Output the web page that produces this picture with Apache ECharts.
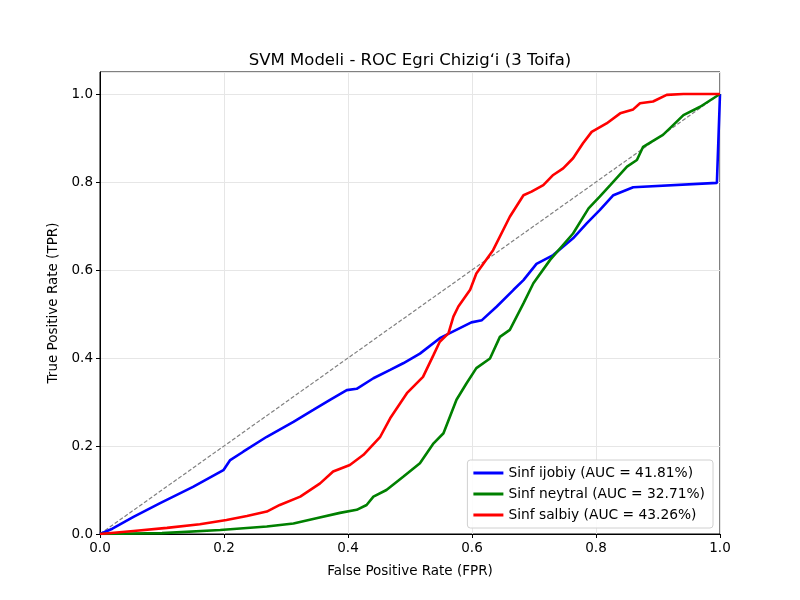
<!DOCTYPE html>
<html>
<head>
<meta charset="utf-8">
<script src="https://cdn.jsdelivr.net/npm/echarts@6/dist/echarts.min.js"></script>
<style>
  html, body { margin: 0; padding: 0; background: #fff; }
  #main { width: 800px; height: 600px; }
</style>
</head>
<body>
<div id="main"></div>
<script>
// ROC nuqtalari (rasmdan o'qilgan)
var ijobiyFpr = [0, 0.02, 0.054, 0.097, 0.15, 0.199, 0.21, 0.231, 0.269, 0.312, 0.344, 0.371, 0.398, 0.414, 0.441, 0.468, 0.489, 0.516, 0.548, 0.599, 0.616, 0.64, 0.667, 0.683, 0.704, 0.731, 0.763, 0.785, 0.806, 0.828, 0.86, 0.995, 0.998, 1.0];
var ijobiyTpr = [0, 0.012, 0.039, 0.07, 0.107, 0.145, 0.168, 0.187, 0.221, 0.255, 0.282, 0.305, 0.327, 0.33, 0.354, 0.373, 0.388, 0.41, 0.445, 0.481, 0.486, 0.517, 0.555, 0.577, 0.614, 0.634, 0.672, 0.706, 0.736, 0.77, 0.788, 0.798, 0.8, 1.0];

var neytralFpr = [0, 0.1, 0.194, 0.269, 0.312, 0.349, 0.387, 0.414, 0.43, 0.441, 0.462, 0.489, 0.516, 0.538, 0.554, 0.575, 0.591, 0.607, 0.629, 0.645, 0.661, 0.683, 0.699, 0.726, 0.763, 0.788, 0.806, 0.823, 0.85, 0.866, 0.876, 0.908, 0.919, 0.941, 0.968, 1.0];
var neytralTpr = [0, 0.002, 0.009, 0.017, 0.024, 0.036, 0.048, 0.055, 0.066, 0.085, 0.1, 0.13, 0.161, 0.206, 0.229, 0.305, 0.342, 0.377, 0.399, 0.448, 0.464, 0.524, 0.57, 0.623, 0.683, 0.74, 0.767, 0.793, 0.835, 0.85, 0.88, 0.907, 0.922, 0.952, 0.971, 1.0];

var salbiyFpr = [0, 0.054, 0.108, 0.161, 0.204, 0.237, 0.269, 0.29, 0.323, 0.355, 0.376, 0.403, 0.425, 0.452, 0.468, 0.495, 0.521, 0.538, 0.548, 0.562, 0.57, 0.578, 0.597, 0.607, 0.634, 0.661, 0.683, 0.696, 0.715, 0.731, 0.747, 0.763, 0.779, 0.793, 0.817, 0.839, 0.86, 0.871, 0.892, 0.914, 0.941, 1.0];
var salbiyTpr = [0, 0.007, 0.014, 0.022, 0.032, 0.041, 0.051, 0.066, 0.085, 0.115, 0.142, 0.157, 0.18, 0.221, 0.263, 0.32, 0.357, 0.407, 0.437, 0.456, 0.494, 0.517, 0.555, 0.592, 0.645, 0.721, 0.77, 0.778, 0.793, 0.816, 0.831, 0.854, 0.888, 0.914, 0.933, 0.956, 0.965, 0.979, 0.983, 0.998, 1.0, 1.0];

var diagX = [0, 1];
var diagY = [0, 1];

var seriesNames = ["Sinf ijobiy (AUC = 41.81%)", "Sinf neytral (AUC = 32.71%)", "Sinf salbiy (AUC = 43.26%)"];
var seriesColors = ["#0000ff", "#008000", "#ff0000"];

function pairs(xs, ys) {
    var out = [];
    for (var i = 0; i < xs.length; i++) out.push([xs[i], ys[i]]);
    return out;
}

var font = "DejaVu Sans";
var myChart = echarts.init(document.getElementById('main'));

var curves = [pairs(ijobiyFpr, ijobiyTpr), pairs(neytralFpr, neytralTpr), pairs(salbiyFpr, salbiyTpr)];
var series = [];
for (var i = 0; i < curves.length; i++) {
    series.push({
        name: seriesNames[i],
        type: 'line',
        data: curves[i],
        showSymbol: false,
        symbol: 'none',
        z: 3,
        lineStyle: { color: seriesColors[i], width: 2.6 },
        itemStyle: { color: seriesColors[i] }
    });
}
series.push({
    name: 'diag',
    type: 'line',
    data: pairs(diagX, diagY),
    symbol: 'none',
    z: 2,
    lineStyle: { color: '#808080', width: 1.2, type: [4, 2] }
});

var option = {
    animation: false,
    backgroundColor: '#fff',
    title: {
        text: "SVM Modeli - ROC Egri Chizig\u02BBi (3 Toifa)",
        left: 405,
        textAlign: 'center',
        top: 47,
        textStyle: { fontFamily: font, fontSize: 16.5, fontWeight: 'normal', color: '#000' }
    },
    legend: {
        data: seriesNames,
        orient: 'vertical',
        right: 87,
        bottom: 72,
        icon: 'rect',
        itemWidth: 30,
        itemHeight: 3,
        itemGap: 7,
        padding: [6, 8, 6, 6],
        borderColor: '#d0d0d0',
        borderWidth: 1,
        borderRadius: 3,
        backgroundColor: 'rgba(255,255,255,0.85)',
        textStyle: { fontFamily: font, fontSize: 13.8, color: '#000' }
    },
    grid: {
        left: 100,
        right: 80,
        top: 72,
        bottom: 66,
        show: true,
        borderColor: '#000',
        borderWidth: 1
    },
    xAxis: {
        type: 'value',
        min: 0,
        max: 1,
        interval: 0.2,
        name: 'False Positive Rate (FPR)',
        nameLocation: 'middle',
        nameGap: 30,
        nameTextStyle: { fontFamily: font, fontSize: 13.5, color: '#000' },
        axisLine: { show: true, lineStyle: { color: '#000' } },
        axisTick: { show: true, length: 4, lineStyle: { color: '#000' } },
        axisLabel: { fontFamily: font, fontSize: 13.5, color: '#000', margin: 7,
            formatter: function (v) { return v.toFixed(1); } },
        splitLine: { show: true, lineStyle: { color: '#e6e6e6', width: 1 } }
    },
    yAxis: {
        type: 'value',
        min: 0,
        max: 1.05,
        interval: 0.2,
        name: 'True Positive Rate (TPR)',
        nameLocation: 'middle',
        nameGap: 38,
        nameTextStyle: { fontFamily: font, fontSize: 13.5, color: '#000' },
        axisLine: { show: true, lineStyle: { color: '#000' } },
        axisTick: { show: true, length: 4, lineStyle: { color: '#000' } },
        axisLabel: { fontFamily: font, fontSize: 13.5, color: '#000', margin: 7,
            showMaxLabel: false,
            formatter: function (v) { return v > 1.01 ? '' : v.toFixed(1); } },
        splitLine: { show: true, lineStyle: { color: '#e6e6e6', width: 1 } }
    },
    series: series
};

myChart.setOption(option);
</script>
</body>
</html>
